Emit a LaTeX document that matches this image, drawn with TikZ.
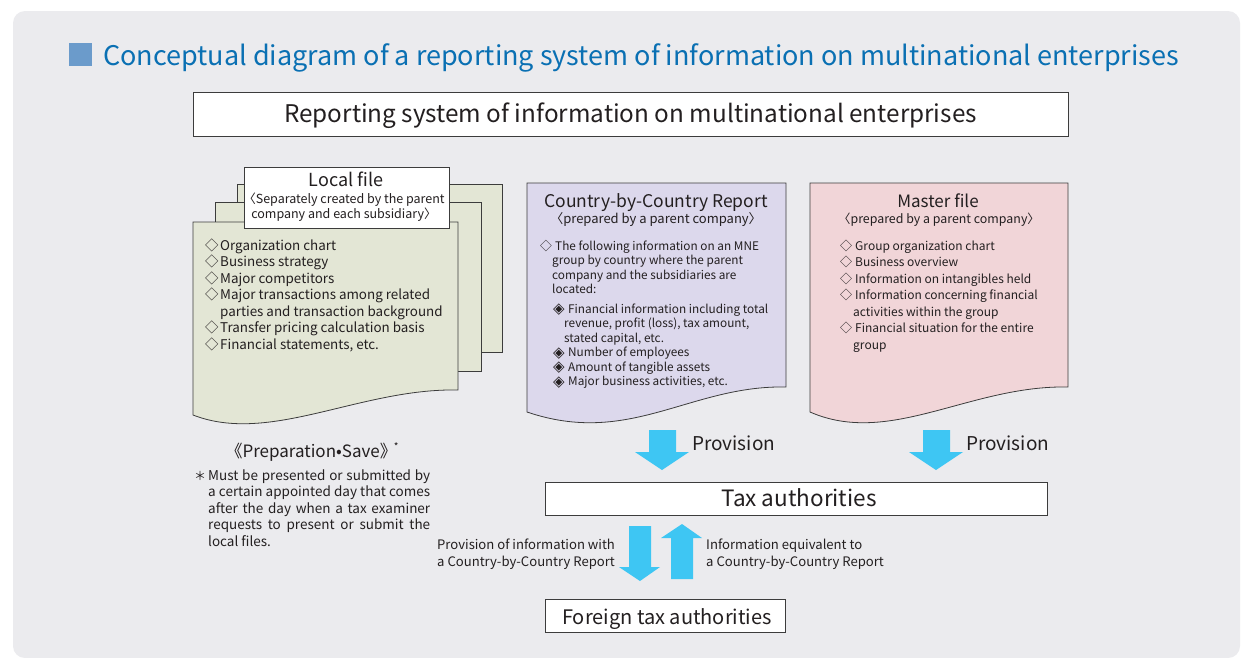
\documentclass[tikz,border=0pt]{standalone}
\usepackage{fontspec}
\setmainfont{Noto Sans CJK JP}
\newfontfamily\djv{DejaVu Sans}
\definecolor{panel}{HTML}{EBEBEE}
\definecolor{titleblue}{HTML}{0A70B3}
\definecolor{sqblue}{HTML}{6B9BCB}
\definecolor{lfgreen}{HTML}{E3E6D5}
\definecolor{cbcpurple}{HTML}{DCD8EC}
\definecolor{mfpink}{HTML}{F1D5D8}
\definecolor{arrowcol}{HTML}{3EC6F3}
\definecolor{edgecol}{HTML}{3C3C3C}
\definecolor{txt}{HTML}{231F20}
\newcommand\fs[2]{\fontsize{#1}{#2}\selectfont}
\newcommand\dia[1]{\makebox[#1][l]{◇}}
\newcommand\ddia[1]{\makebox[#1][l]{\raisebox{-0.5pt}{\djv\fontsize{15}{15}\selectfont ◈}}}
\begin{document}
\begin{tikzpicture}[x=1pt,y=-1pt,
  sheet/.style={draw=edgecol, line width=0.8pt},
  whitebox/.style={draw=edgecol, line width=0.8pt, fill=white, inner sep=0},
  txtnode/.style={inner sep=0, text=txt},
  blockarrow/.style={fill=arrowcol}]
\useasboundingbox (0,0) rectangle (1246,657);
\fill[white] (0,0) rectangle (1246,657);
\fill[panel, rounded corners=12pt] (13,11) rectangle (1240,658);

% title
\fill[sqblue] (69,43) rectangle (92,66);
\node[txtnode, text=titleblue, anchor=base west, font=\fs{27}{32}] (title) at (103,65)
  {Conceptual diagram of a reporting system of information on multinational enterprises};

% reporting system box
\node[whitebox, minimum width=875, minimum height=44] (rep) at (630.5,114) {};
\node[txtnode, anchor=base, font=\fs{24.3}{28}] (reptxt) at (630.5,122)
  {Reporting system of information on multinational enterprises};

% local file sheets
\filldraw[sheet, fill=lfgreen] (237,184) rectangle (502,352);
\filldraw[sheet, fill=lfgreen] (215,202) rectangle (481,371);
\filldraw[sheet, fill=lfgreen] (193,222) -- (458,222) -- (458,390)
  .. controls (360,388) and (270,445) .. (193,415) -- cycle;
\node[whitebox, minimum width=205, minimum height=61] (lfbox) at (346.5,197.5) {};
\node[txtnode, anchor=base, font=\fs{18}{20}] (lftitle) at (346,186) {Local file};
\node[txtnode, anchor=base, font=\fs{12.5}{15}] (lfsub) at (344,203)
  {\begin{tabular}[t]{@{}c@{}}〈Separately created by the parent\\ company and each subsidiary〉\end{tabular}};
\node[txtnode, anchor=base west, font=\fs{13.4}{16.4}] (lfitems) at (205,250)
  {\begin{tabular}[t]{@{}l@{}}
  \dia{15pt}Organization chart\\
  \dia{15pt}Business strategy\\
  \dia{15pt}Major competitors\\
  \dia{15pt}Major transactions among related\\
  \hspace*{15pt}parties and transaction background\\
  \dia{15pt}Transfer pricing calculation basis\\
  \dia{15pt}Financial statements, etc.
  \end{tabular}};

% country-by-country report sheet
\filldraw[sheet, fill=cbcpurple] (527,183) -- (786,183) -- (786,387)
  .. controls (690,385) and (630,447) .. (527,412) -- cycle;
\node[txtnode, anchor=base, font=\fs{17.5}{22}] (cbctitle) at (656,207) {Country-by-Country Report};
\node[txtnode, anchor=base, font=\fs{13}{16}] (cbcsub) at (656,223) {〈prepared by a parent company〉};
\node[txtnode, anchor=base west, font=\fs{11.8}{14.5}] (cbcitems) at (540,250)
  {\begin{tabular}[t]{@{}l@{}}
  \dia{15pt}The following information on an MNE\\
  \hspace*{12pt}group by country where the parent\\
  \hspace*{12pt}company and the subsidiaries are\\
  \hspace*{12pt}located:\\[5pt]
  \hspace*{13pt}\ddia{15pt}Financial information including total\\
  \hspace*{24pt}revenue, profit (loss), tax amount,\\
  \hspace*{24pt}stated capital, etc.\\
  \hspace*{13pt}\ddia{15pt}Number of employees\\
  \hspace*{13pt}\ddia{15pt}Amount of tangible assets\\
  \hspace*{13pt}\ddia{15pt}Major business activities, etc.
  \end{tabular}};

% master file sheet
\filldraw[sheet, fill=mfpink] (810,183) -- (1068,183) -- (1068,387)
  .. controls (970,385) and (890,447) .. (810,412) -- cycle;
\node[txtnode, anchor=base, font=\fs{17}{22}] (mftitle) at (938,207) {Master file};
\node[txtnode, anchor=base, font=\fs{12.4}{16}] (mfsub) at (939,223) {〈prepared by a parent company〉};
\node[txtnode, anchor=base west, font=\fs{12}{16.5}] (mfitems) at (840,250)
  {\begin{tabular}[t]{@{}l@{}}
  \dia{15pt}Group organization chart\\
  \dia{15pt}Business overview\\
  \dia{15pt}Information on intangibles held\\
  \dia{15pt}Information concerning financial\\
  \hspace*{13pt}activities within the group\\
  \dia{15pt}Financial situation for the entire\\
  \hspace*{13pt}group
  \end{tabular}};

% preparation / save
\node[txtnode, anchor=base, font=\fs{17}{20}] (prep) at (312,457)
  {《Preparation\textbullet Save》\hspace{-3pt}\raisebox{7pt}{\fs{10}{10}*}};
\node[txtnode, anchor=base west, font=\fs{12}{13}] (star) at (194,480) {＊};
\node[txtnode, anchor=base west, font=\fs{13.5}{16.5}] (note) at (208,480)
  {\begin{tabular}[t]{@{}l@{}}
  \makebox[222pt][s]{Must be presented or submitted by}\\
  \makebox[222pt][s]{a certain appointed day that comes}\\
  \makebox[222pt][s]{after the day when a tax examiner}\\
  \makebox[222pt][s]{requests to present or submit the}\\
  local files.
  \end{tabular}};

% tax authorities
\node[whitebox, minimum width=502, minimum height=33] (tax) at (796,498.5) {};
\node[txtnode, anchor=base, font=\fs{22.5}{26}] (taxtxt) at (799,506) {Tax authorities};
\node[whitebox, minimum width=240, minimum height=33] (foreign) at (665,615.5) {};
\node[txtnode, anchor=base, font=\fs{20}{24}] (foreigntxt) at (667,624) {Foreign tax authorities};

% provision arrows
\fill[blockarrow] (649,430) -- (676,430) -- (676,452) -- (689,452) -- (662,470) -- (635,452) -- (649,452) -- cycle;
\fill[blockarrow] (923,430) -- (950,430) -- (950,452) -- (963,452) -- (936,470) -- (909,452) -- (923,452) -- cycle;
\node[txtnode, anchor=base west, font=\fs{19}{24}] (prov1) at (692,450) {Provision};
\node[txtnode, anchor=base west, font=\fs{19}{24}] (prov2) at (966,450) {Provision};

% exchange arrows
\fill[blockarrow] (629,526) -- (651,526) -- (651,567) -- (660,567) -- (640,581) -- (619,567) -- (629,567) -- cycle;
\fill[blockarrow] (671,579) -- (693,579) -- (693,538) -- (702,538) -- (682,524) -- (661,538) -- (671,538) -- cycle;
\node[txtnode, anchor=base west, font=\fs{13.1}{17}] (ltext) at (437,549)
  {\begin{tabular}[t]{@{}l@{}}Provision of information with\\ a Country-by-Country Report\end{tabular}};
\node[txtnode, anchor=base west, font=\fs{13.1}{17}] (rtext) at (706,549)
  {\begin{tabular}[t]{@{}l@{}}Information equivalent to\\ a Country-by-Country Report\end{tabular}};
\end{tikzpicture}
\end{document}
